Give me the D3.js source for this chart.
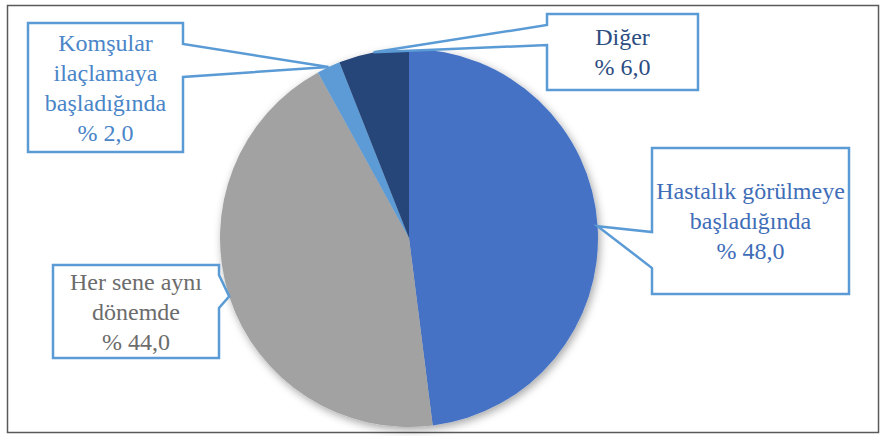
<!DOCTYPE html>
<html>
<head>
<meta charset="utf-8">
<title>İlaçlama zamanı</title>
<style>
  body { margin: 0; background: #fff; }
  svg { display: block; }
</style>
<script src="https://cdn.jsdelivr.net/npm/d3@7"></script>
</head>
<body>
<svg width="882" height="436"></svg>
<script>
// data
const categories = ["Hastalık görülmeye başladığında", "Her sene aynı dönemde", "Komşular ilaçlamaya başladığında", "Diğer"];
const labelLines = [["Hastalık görülmeye", "başladığında"], ["Her sene aynı", "dönemde"], ["Komşular", "ilaçlamaya", "başladığında"], ["Diğer"]];
const values = [48.0, 44.0, 2.0, 6.0];

const sliceColors = ["#4472c4", "#a2a2a2", "#5b9bd5", "#264478"];
const textColors = ["#3f6db8", "#6c6c6c", "#4a85c8", "#2d4d82"];

// callout boxes (layout only)
const boxes = [
  {x: 652, y: 148, w: 197, h: 146, side: "left",  n0: 232, n1: 268},
  {x: 53,  y: 265, w: 166, h: 93,  side: "right", n0: 275, n1: 308},
  {x: 28,  y: 23,  w: 155, h: 129, side: "right", n0: 44,  n1: 77},
  {x: 547, y: 14,  w: 151, h: 76,  side: "left",  n0: 25,  n1: 45}
];

const cx = 409, cy = 238, r = 189;
const svg = d3.select("svg");
const serif = "'Liberation Serif', 'Times New Roman', Times, 'Nimbus Roman', 'DejaVu Serif', serif";

svg.append("rect")
  .attr("x", 7.5).attr("y", 5.5).attr("width", 871).attr("height", 427)
  .attr("fill", "#fff").attr("stroke", "#5a5a5a").attr("stroke-width", 1.5);

const defs = svg.append("defs");
const f = defs.append("filter").attr("id", "shadow")
  .attr("x", "-20%").attr("y", "-20%").attr("width", "140%").attr("height", "140%");
f.append("feDropShadow").attr("dx", 2).attr("dy", 3).attr("stdDeviation", 4)
  .attr("flood-color", "#000").attr("flood-opacity", 0.35);

const pie = d3.pie().sort(null).value(d => d);
const arcs = pie(values);
const arc = d3.arc().innerRadius(0).outerRadius(r);
const edge = d3.arc().innerRadius(r).outerRadius(r);

const g = svg.append("g").attr("transform", `translate(${cx},${cy})`);
g.append("g").attr("filter", "url(#shadow)")
  .selectAll("path")
  .data(arcs)
  .join("path")
  .attr("d", arc)
  .attr("fill", (d, i) => sliceColors[i]);

const fmt = v => "% " + d3.format(".1f")(v).replace(".", ",");

arcs.forEach((a, i) => {
  const b = boxes[i];
  const c = edge.centroid(a);
  const tip = [cx + c[0], cy + c[1]];
  let pts;
  if (b.side === "left") {
    pts = [[b.x, b.y], [b.x + b.w, b.y], [b.x + b.w, b.y + b.h], [b.x, b.y + b.h],
           [b.x, b.n1], tip, [b.x, b.n0]];
  } else {
    pts = [[b.x, b.y], [b.x + b.w, b.y], [b.x + b.w, b.n0], tip, [b.x + b.w, b.n1],
           [b.x + b.w, b.y + b.h], [b.x, b.y + b.h]];
  }
  svg.append("path")
    .attr("d", "M" + pts.map(p => p.join(",")).join("L") + "Z")
    .attr("fill", "#fff")
    .attr("stroke", "#5b9bd5")
    .attr("stroke-width", 2.5)
    .attr("stroke-linejoin", "miter");

  const lines = labelLines[i].concat([fmt(values[i])]);
  const lh = 30;
  const first = b.y + b.h / 2 - (lines.length - 1) * lh / 2 + 8;
  const t = svg.append("text")
    .attr("text-anchor", "middle")
    .style("font-family", serif)
    .attr("font-size", 24)
    .attr("fill", textColors[i]);
  lines.forEach((s, k) => {
    t.append("tspan").attr("x", b.x + b.w / 2).attr("y", first + k * lh).text(s);
  });
});
</script>
</body>
</html>
